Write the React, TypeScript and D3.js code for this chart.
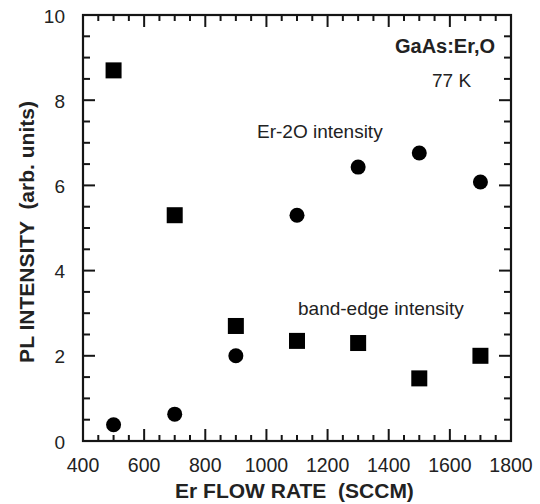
import React from "react";
import * as d3 from "d3";

const flowRates = [500, 700, 900, 1100, 1300, 1500, 1700];
const bandEdge = [8.7, 5.3, 2.7, 2.35, 2.3, 1.47, 2.0];
const er2O = [0.38, 0.63, 2.0, 5.3, 6.43, 6.76, 6.08];
const xTicks = [400, 600, 800, 1000, 1200, 1400, 1600, 1800];
const yTicks = [0, 2, 4, 6, 8, 10];

const W = 540, H = 504;
const left = 83, right = 511, top = 15, bottom = 441;
const FONT = "Liberation Sans, Arial, sans-serif";

export default function App() {
  const x = d3.scaleLinear().domain([400, 1800]).range([left, right]);
  const y = d3.scaleLinear().domain([0, 10]).range([bottom, top]);
  const xMinor = d3.range(400, 1801, 50);
  const yMinor = d3.range(0, 10.001, 0.5);
  const stroke = "#151515";
  const isMajorX = (v: number) => Math.abs(v % 200) < 1e-6;
  const isMajorY = (v: number) => Math.abs(v % 2) < 1e-6;
  return (
    <svg width={W} height={H} style={{ position: "absolute", left: 0, top: 0, background: "#fff" }}>
      <rect x={0} y={0} width={W} height={H} fill="#fff" />
      {xMinor.map((v) => {
        const len = isMajorX(v) ? 12 : 6;
        return (
          <g key={"xt" + v}>
            <line x1={x(v)} x2={x(v)} y1={bottom} y2={bottom - len} stroke={stroke} strokeWidth={2} />
            <line x1={x(v)} x2={x(v)} y1={top} y2={top + len} stroke={stroke} strokeWidth={2} />
          </g>
        );
      })}
      {yMinor.map((v) => {
        const len = isMajorY(v) ? 12 : 7;
        return (
          <g key={"yt" + v}>
            <line x1={left} x2={left + len} y1={y(v)} y2={y(v)} stroke={stroke} strokeWidth={2} />
            <line x1={right} x2={right - len} y1={y(v)} y2={y(v)} stroke={stroke} strokeWidth={2} />
          </g>
        );
      })}
      <rect x={left} y={top} width={right - left} height={bottom - top} fill="none" stroke={stroke} strokeWidth={2.2} />
      {xTicks.map((v) => (
        <text key={"xl" + v} x={x(v)} y={472} textAnchor="middle" fontFamily={FONT} fontSize={19.5} fill="#222">
          {v}
        </text>
      ))}
      {yTicks.map((v) => (
        <text key={"yl" + v} x={65} y={y(v) + 7.5} textAnchor="end" fontFamily={FONT} fontSize={19} fill="#222">
          {v}
        </text>
      ))}
      <text x={(172 + 417) / 2} y={498} textAnchor="middle" fontFamily={FONT} fontWeight="bold" fontSize={21} fill="#222" style={{ whiteSpace: "pre" }}>
        {"Er FLOW RATE  (SCCM)"}
      </text>
      <text transform={`translate(34,${232}) rotate(-90)`} textAnchor="middle" fontFamily={FONT} fontWeight="bold" fontSize={21} fill="#222" style={{ whiteSpace: "pre" }}>
        {"PL INTENSITY  (arb. units)"}
      </text>
      {flowRates.map((f, i) => (
        <rect key={"sq" + f} x={x(f) - 8} y={y(bandEdge[i]) - 8} width={16} height={16} fill="#000" />
      ))}
      {flowRates.map((f, i) => (
        <circle key={"ci" + f} cx={x(f)} cy={y(er2O[i])} r={7.5} fill="#000" />
      ))}
      <text x={495} y={53} textAnchor="end" fontFamily={FONT} fontWeight="bold" fontSize={20} fill="#222">GaAs:Er,O</text>
      <text x={432} y={87} fontFamily={FONT} fontSize={19} fill="#222">77 K</text>
      <text x={257} y={138} fontFamily={FONT} fontSize={19} fill="#222">Er-2O intensity</text>
      <text x={298} y={315} fontFamily={FONT} fontSize={19} fill="#222">band-edge intensity</text>
    </svg>
  );
}
